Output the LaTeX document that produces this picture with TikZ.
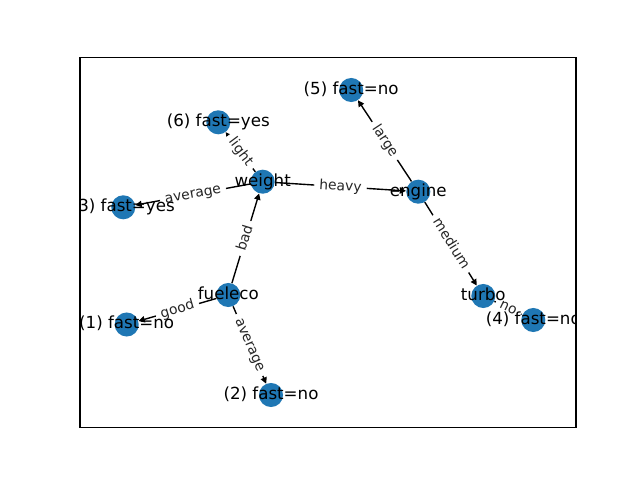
\documentclass[tikz,border=0pt]{standalone}
\usepackage{fontspec}
\setmainfont{DejaVu Sans}
\usetikzlibrary{arrows.meta}
\pgfdeclarelayer{bg}
\pgfsetlayers{bg,main}
\definecolor{nodeblue}{HTML}{1F77B4}
\begin{document}
\begin{tikzpicture}[x=0.72pt,y=-0.72pt,
  dot/.style={circle,fill=nodeblue,minimum size=17.32pt,inner sep=0pt},
  ntext/.style={font=\fontsize{12}{14}\selectfont,inner sep=0pt,text height=9.1pt,text depth=2.8pt},
  elab/.style={font=\fontsize{10}{12}\selectfont,text=black!85,fill=white,draw=white,line width=0.5pt,rounded corners=3pt,
    inner xsep=3.4pt,inner ysep=3pt,text height=7.6pt,text depth=2.3pt,sloped,midway},
  edge/.style={line width=1pt,-{Triangle[length=4.5pt,width=4.5pt]}}]
\useasboundingbox (0,0) rectangle (640,480);
% nodes
\node[dot] (f5) at (351.2,90) {};
\node[dot] (f6) at (218.3,122.3) {};
\node[dot] (w) at (262.7,181.7) {};
\node[dot] (f3) at (123.3,207.3) {};
\node[dot] (e) at (418.3,191.7) {};
\node[dot] (fe) at (228.3,295) {};
\node[dot] (f1) at (126.7,324.5) {};
\node[dot] (f2) at (271,395) {};
\node[dot] (t) at (483.3,296) {};
\node[dot] (f4) at (533.3,320) {};
% edges
\begin{pgfonlayer}{bg}
\begin{scope}
\clip (80,57.6) rectangle (576,427.2);
\draw[edge] (w) -- node[elab]{light} (f6);
\draw[edge] (w) -- node[elab]{average} (f3);
\draw[edge] (w) -- node[elab]{heavy} (e);
\draw[edge] (e) -- node[elab]{large} (f5);
\draw[edge] (e) -- node[elab]{medium} (t);
\draw[edge] (t) -- node[elab]{no} (f4);
\draw[edge] (fe) -- node[elab]{bad} (w);
\draw[edge] (fe) -- node[elab]{good} (f1);
\draw[edge] (fe) -- node[elab]{average} (f2);
\end{scope}
\end{pgfonlayer}
% node labels
\begin{scope}
\clip (80,57.6) rectangle (576,427.2);
\node[ntext] (tf5) at (f5) {(5) fast=no};
\node[ntext] (tf6) at (f6) {(6) fast=yes};
\node[ntext] (tw) at (w) {weight};
\node[ntext] (tf3) at (f3) {(3) fast=yes};
\node[ntext] (te) at (e) {engine};
\node[ntext] (tfe) at (fe) {fueleco};
\node[ntext] (tf1) at (f1) {(1) fast=no};
\node[ntext] (tf2) at (f2) {(2) fast=no};
\node[ntext] (tt) at (t) {turbo};
\node[ntext] (tf4) at (f4) {(4) fast=no};
\end{scope}
\draw[line width=0.8pt] (80,57.6) rectangle (576,427.2);
\end{tikzpicture}
\end{document}
